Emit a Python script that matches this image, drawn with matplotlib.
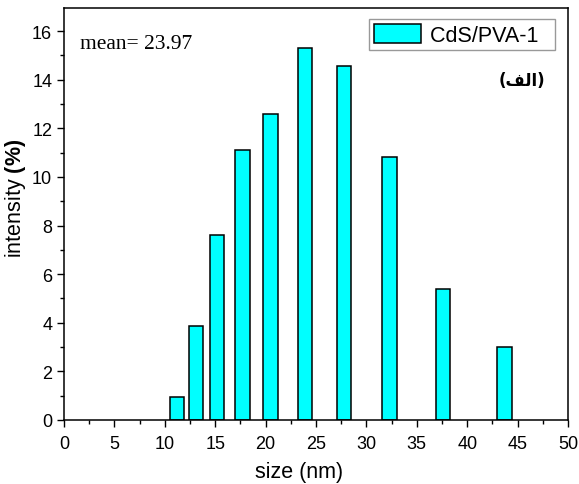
import numpy as np
from matplotlib import pyplot as plt
from matplotlib.ticker import MultipleLocator

# size distribution
sizes = [11.2, 13.1, 15.2, 17.7, 20.5, 23.9, 27.8, 32.3, 37.6, 43.7]
intensity = [0.95, 3.85, 7.62, 11.1, 12.6, 15.3, 14.55, 10.8, 5.37, 2.99]
series_name = "CdS/PVA-1"
mean_text = "mean= 23.97"
# Arabic label "(الف)" written with presentation forms in visual order
panel_label = "(\ufed2\ufedf\ufe8d)"

plt.rcParams['font.family'] = ['Liberation Sans', 'DejaVu Sans']
plt.rcParams['mathtext.fontset'] = 'custom'
plt.rcParams['mathtext.rm'] = 'Liberation Sans'
plt.rcParams['mathtext.bf'] = 'Liberation Sans:bold'

fig = plt.figure(figsize=(5.79, 4.85), dpi=100)
ax = fig.add_axes([64/579, 64/485, 504/579, 412/485])

ax.bar(sizes, intensity, width=1.42, color='#00FFFF', edgecolor='black',
       linewidth=1.1, label=series_name + "  ")

ax.set_xlim(0, 50)
ax.set_ylim(0, 16.95)
ax.xaxis.set_major_locator(MultipleLocator(5))
ax.xaxis.set_minor_locator(MultipleLocator(2.5))
ax.yaxis.set_major_locator(MultipleLocator(2))
ax.yaxis.set_minor_locator(MultipleLocator(1))
ax.tick_params(which='both', direction='out', top=False, right=False)
ax.tick_params(which='major', length=5, width=1, labelsize=13)
ax.tick_params(which='minor', length=3, width=1)
ax.tick_params(axis='x', which='major', pad=6)
for s in ax.spines.values():
    s.set_linewidth(1.1)

ax.set_xlabel("size (nm)", fontsize=15.5)
ax.set_ylabel("intensity $\\mathbf{(\\%)}$", fontsize=15.5)
ax.xaxis.set_label_coords(0.466, -0.1)
ax.yaxis.set_label_coords(-0.071, 0.54)

ax.text(0.031, 0.915, mean_text, transform=ax.transAxes, fontsize=15.5,
        family='Liberation Serif', va='center', ha='left')
ax.text(0.955, 0.825, panel_label, transform=ax.transAxes, fontsize=12,
        fontweight='bold', family='DejaVu Sans', va='center', ha='right')

leg = ax.legend(loc='upper right', fontsize=15.5, frameon=True, fancybox=False,
                edgecolor='gray', handlelength=2.2, handleheight=0.98,
                handletextpad=0.4, borderpad=0.22, borderaxespad=0,
                bbox_to_anchor=(0.974, 0.973))
leg.get_frame().set_linewidth(1)

fig.savefig("out.png", dpi=100)
